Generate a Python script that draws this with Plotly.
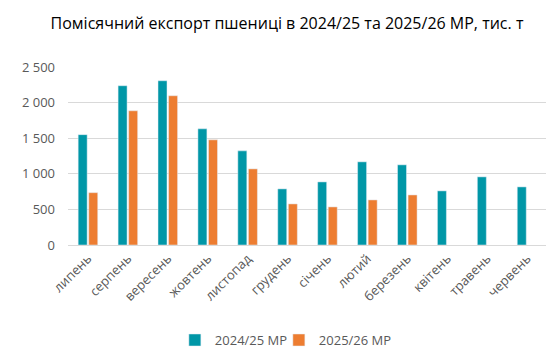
import plotly.graph_objects as go

months = ["липень", "серпень", "вересень", "жовтень", "листопад", "грудень",
          "січень", "лютий", "березень", "квітень", "травень", "червень"]
mr_2024 = [1550, 2237, 2307, 1632, 1322, 788, 886, 1168, 1126, 760, 957, 816]
mr_2025 = [735, 1885, 2096, 1477, 1069, 577, 535, 633, 703, None, None, None]

font = "Open Sans"
fig = go.Figure()
fig.add_trace(go.Bar(x=months, y=mr_2024, name="2024/25 МР", marker_color="#0097A7",
                     legend="legend"))
fig.add_trace(go.Bar(x=months, y=mr_2025, name="2025/26 МР", marker_color="#ED7D31",
                     legend="legend2"))

leg = dict(orientation="h", xanchor="left", y=-0.534, yanchor="middle",
           font=dict(size=13, color="#595959"), bgcolor="rgba(0,0,0,0)")

# the page body has an 8px default margin, so the figure is 546x348
fig.update_layout(
    width=546, height=348,
    margin=dict(l=60, r=7, t=59, b=111, autoexpand=False),
    paper_bgcolor="white", plot_bgcolor="white",
    separators=", ",
    barmode="group", bargap=0.47, bargroupgap=0.15,
    title=dict(text="Помісячний експорт пшениці в 2024/25 та 2025/26 МР, тис. т",
               x=0.511, xanchor="center", y=0.957, yanchor="middle",
               font=dict(family=font, size=16, color="#000000")),
    font=dict(family=font, size=13, color="#595959"),
    showlegend=True,
    legend=dict(leg, x=0.2231),
    legend2=dict(leg, x=0.4402),
    yaxis=dict(range=[0, 2500], dtick=500, tickformat=",d", showgrid=True,
               gridcolor="#D9D9D9", gridwidth=1, zeroline=False, showline=False,
               ticks="", automargin=False, ticklabelstandoff=12,
               tickfont=dict(size=13, color="#595959")),
    xaxis=dict(tickangle=-45, showline=True, linecolor="#D9D9D9", linewidth=1,
               ticks="", automargin=False,
               tickfont=dict(size=13, color="#595959")),
)
fig.write_html("out.html")
